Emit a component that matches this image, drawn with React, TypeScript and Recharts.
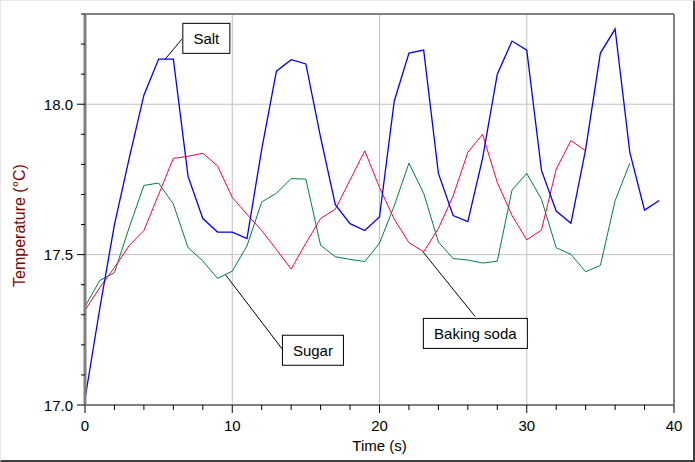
import React from "react";
import { Line, LineChart, ReferenceDot, ReferenceLine, XAxis, YAxis } from "recharts";

// readings taken once a second
const time = [
  0, 1, 2, 3, 4, 5, 6, 7, 8, 9, 10, 11, 12, 13, 14, 15, 16, 17, 18, 19,
  20, 21, 22, 23, 24, 25, 26, 27, 28, 29, 30, 31, 32, 33, 34, 35, 36, 37, 38, 39,
];

const salt = [
  17.02, 17.32, 17.6, 17.82, 18.03, 18.15, 18.15, 17.76, 17.62, 17.575,
  17.575, 17.553, 17.85, 18.11, 18.148, 18.134, 17.89, 17.666, 17.603, 17.58,
  17.625, 18.01, 18.17, 18.18, 17.77, 17.63, 17.61, 17.82, 18.1, 18.21,
  18.18, 17.78, 17.645, 17.604, 17.85, 18.17, 18.25, 17.84, 17.648, 17.68,
];

const bakingSoda = [
  17.315, 17.39, 17.457, 17.53, 17.58, 17.7, 17.82, 17.827, 17.837, 17.795,
  17.69, 17.634, 17.58, 17.517, 17.452, 17.538, 17.62, 17.651, 17.748, 17.845,
  17.723, 17.618, 17.54, 17.509, 17.587, 17.695, 17.84, 17.9, 17.74, 17.63,
  17.549, 17.582, 17.784, 17.879, 17.845,
];

const sugar = [
  17.327, 17.414, 17.44, 17.59, 17.73, 17.738, 17.668, 17.523, 17.479, 17.421,
  17.445, 17.529, 17.675, 17.704, 17.753, 17.751, 17.531, 17.493, 17.484, 17.477,
  17.538, 17.662, 17.804, 17.704, 17.542, 17.487, 17.482, 17.472, 17.478, 17.715,
  17.77, 17.684, 17.523, 17.501, 17.443, 17.464, 17.679, 17.804,
];

const timeTicks = [0, 2, 4, 6, 8, 10, 12, 14, 16, 18, 20, 22, 24, 26, 28, 30, 32, 34, 36, 38, 40];
const tempTicks = [17.0, 17.1, 17.2, 17.3, 17.4, 17.5, 17.6, 17.7, 17.8, 17.9, 18.0, 18.1, 18.2, 18.3];
const timeGrid = [10, 20, 30];
const tempGrid = [17.5, 18.0];

// callout boxes: text, where the box sits, where the leader touches the curve, where it meets the box
const noteText = ["Salt", "Sugar", "Baking soda"];
const noteBox = [
  [8.24, 18.219],
  [15.48, 17.182],
  [26.51, 17.238],
];
const notePoint = [
  [5.43, 18.149],
  [9.56, 17.432],
  [22.97, 17.508],
];
const noteEdge = [
  [6.57, 18.216],
  [13.41, 17.185],
  [26.5, 17.294],
];

const data = time.map((t, i) => ({
  t,
  salt: salt[i],
  soda: bakingSoda[i],
  sugar: sugar[i],
}));

const FONT = '"Liberation Sans", Arial, sans-serif';

function textWidth(s: string) {
  const ctx = document.createElement("canvas").getContext("2d");
  if (!ctx) return s.length * 8;
  ctx.font = `15px ${FONT}`;
  return ctx.measureText(s).width;
}

function TimeTick({ x, y, payload }: any) {
  const major = payload.value % 10 === 0;
  return (
    <g>
      <line x1={x} y1={y} x2={x} y2={y + (major ? 8 : 5)} stroke="#000" />
      {major && (
        <text x={x} y={y + 26} textAnchor="middle" fontSize={15} fill="#000">
          {payload.value}
        </text>
      )}
    </g>
  );
}

function TempTick({ x, y, payload }: any) {
  const v = payload.value;
  const major = Math.abs(v * 2 - Math.round(v * 2)) < 1e-6;
  return (
    <g>
      <line x1={x - (major ? 8 : 4)} y1={y} x2={x} y2={y} stroke="#000" />
      {major && (
        <text x={x - 12} y={y + 5.5} textAnchor="end" fontSize={15} fill="#000">
          {v.toFixed(1)}
        </text>
      )}
    </g>
  );
}

function NoteBox({ cx, cy, text }: any) {
  const w = Math.round(textWidth(text) + 21);
  return (
    <g>
      <rect x={cx - w / 2} y={cy - 15} width={w} height={30} fill="#fff" stroke="#000" />
      <text x={cx} y={cy + 5.5} textAnchor="middle" fontSize={15} fill="#000">
        {text}
      </text>
    </g>
  );
}

export default function App() {
  return (
    <div
      style={{
        width: 695,
        height: 462,
        boxSizing: "border-box",
        borderTop: "1px solid #e8e8e8",
        borderLeft: "1px solid #e8e8e8",
        borderRight: "2px solid #404040",
        borderBottom: "2px solid #404040",
        background: "#fff",
        fontFamily: FONT,
        position: "relative",
        overflow: "hidden",
      }}
    >
      <style>{`body{margin:0}`}</style>
      <div style={{ position: "absolute", left: -1, top: -1 }}>
        <LineChart width={695} height={462} data={data} margin={{ top: 14, right: 21, left: 0, bottom: 0 }}>
          <XAxis
            dataKey="t"
            type="number"
            domain={[0, 40]}
            ticks={timeTicks}
            interval={0}
            height={57}
            tickSize={0}
            tickMargin={0}
            tickLine={false}
            tick={<TimeTick />}
            axisLine={{ stroke: "#808080", strokeWidth: 2 }}
            label={{ value: "Time (s)", position: "insideBottom", offset: 11, fontSize: 15, fill: "#000" }}
          />
          <YAxis
            type="number"
            domain={[17.0, 18.3]}
            ticks={tempTicks}
            interval={0}
            width={85}
            tickSize={0}
            tickMargin={0}
            tickLine={false}
            tick={<TempTick />}
            axisLine={{ stroke: "#808080", strokeWidth: 3 }}
            label={{
              value: "Temperature (°C)",
              angle: -90,
              position: "insideLeft",
              offset: 19,
              dy: 16,
              fontSize: 16,
              fill: "#800000",
              style: { textAnchor: "middle" },
            }}
          />
          {timeGrid.map((g) => (
            <ReferenceLine key={`vx${g}`} x={g} stroke="#c0c0c0" />
          ))}
          {tempGrid.map((g) => (
            <ReferenceLine key={`hy${g}`} y={g} stroke="#c0c0c0" />
          ))}
          <ReferenceLine x={40} stroke="#808080" strokeWidth={2} />
          <ReferenceLine y={18.3} stroke="#808080" strokeWidth={2} />
          <Line dataKey="sugar" stroke="#008040" strokeWidth={1} dot={false} isAnimationActive={false} />
          <Line dataKey="soda" stroke="#ff0040" strokeWidth={1} dot={false} isAnimationActive={false} />
          <Line dataKey="salt" stroke="#0000ff" strokeWidth={1.3} dot={false} isAnimationActive={false} />
          {noteText.map((n, i) => (
            <ReferenceLine
              key={`lead${n}`}
              segment={[
                { x: notePoint[i][0], y: notePoint[i][1] },
                { x: noteEdge[i][0], y: noteEdge[i][1] },
              ]}
              stroke="#000"
            />
          ))}
          {noteText.map((n, i) => (
            <ReferenceDot
              key={`box${n}`}
              x={noteBox[i][0]}
              y={noteBox[i][1]}
              shape={(p: any) => <NoteBox cx={p.cx} cy={p.cy} text={n} />}
            />
          ))}
        </LineChart>
      </div>
    </div>
  );
}
